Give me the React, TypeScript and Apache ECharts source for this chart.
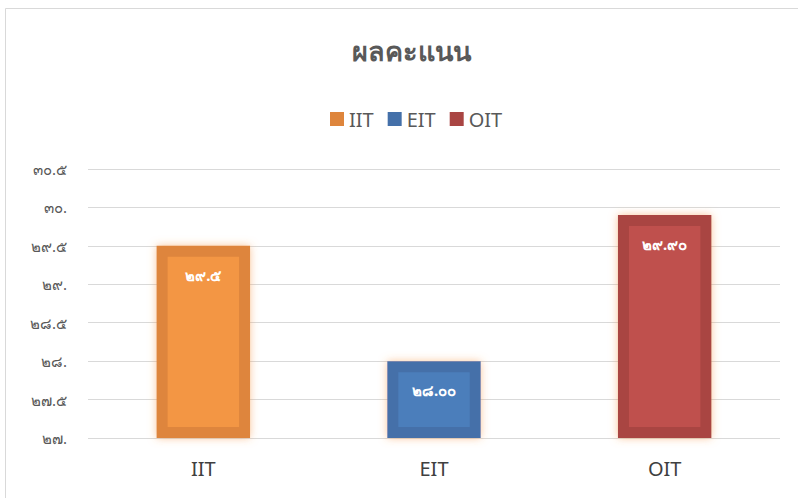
import React, { useEffect, useRef } from "react";
import * as echarts from "echarts";

const title = "ผลคะแนน";
const categories = ["IIT", "EIT", "OIT"];
const values = [29.5, 28.0, 29.9];
const labelDecimals = [1, 2, 2];
const outerColors = ["#DE853C", "#4470A9", "#A94543"];
const innerColors = ["#F39644", "#4B7EBB", "#BF504D"];
const axisMin = 27;
const axisMax = 30.5;
const axisStep = 0.5;

const thaiDigits = ["๐", "๑", "๒", "๓", "๔", "๕", "๖", "๗", "๘", "๙"];
const toThai = (s: string) => s.replace(/[0-9]/g, (d) => thaiDigits[Number(d)]);
const axisFmt = (v: number) =>
  Math.abs(v % 1) < 1e-9 ? toThai(String(Math.round(v))) + "." : toThai(v.toFixed(1));

const FONT = '"Noto Sans", "DejaVu Sans", sans-serif';

export default function App() {
  const ref = useRef<HTMLDivElement>(null);
  useEffect(() => {
    if (!ref.current) return;
    const chart = echarts.init(ref.current, undefined, { renderer: "svg" });
    const series = categories.map((name, i) => ({
      type: "custom" as const,
      name,
      itemStyle: { color: outerColors[i] },
      data: [[i, values[i]]],
      renderItem: (params: any, api: any) => {
        const x = api.value(0);
        const v = api.value(1);
        const top = api.coord([x, v]);
        const base = api.coord([x, axisMin]);
        const w = api.size([1, 0])[0] * 0.405;
        const b = 11;
        const h = base[1] - top[1];
        return {
          type: "group",
          children: [
            {
              type: "rect",
              shape: { x: top[0] - w / 2, y: top[1], width: w, height: h },
              style: {
                fill: outerColors[i],
                shadowColor: "rgba(247,150,70,0.55)",
                shadowBlur: 8,
              },
            },
            {
              type: "rect",
              shape: { x: top[0] - w / 2 + b, y: top[1] + b, width: w - 2 * b, height: h - 2 * b },
              style: { fill: innerColors[i] },
            },
            {
              type: "text",
              x: top[0],
              y: top[1] + 29,
              style: {
                text: toThai(values[i].toFixed(labelDecimals[i])),
                fill: "#FFFFFF",
                font: `bold 15px ${FONT}`,
                align: "center",
                verticalAlign: "middle",
              },
            },
          ],
        };
      },
    }));
    chart.setOption({
      animation: false,
      backgroundColor: "#FFFFFF",
      title: {
        text: title,
        left: 347,
        top: 32,
        textStyle: { color: "#595959", fontSize: 27, fontWeight: "bold", fontFamily: FONT },
      },
      legend: {
        data: categories,
        top: 104,
        left: 325,
        itemWidth: 14,
        itemHeight: 14,
        itemGap: 14,
        icon: "rect",
        textStyle: { color: "#595959", fontSize: 20, fontFamily: FONT },
      },
      grid: { left: 88, right: 18, top: 169, bottom: 60, containLabel: false },
      xAxis: {
        type: "category",
        data: categories,
        axisLine: { show: false },
        axisTick: { show: false },
        axisLabel: { color: "#404040", fontSize: 20, fontFamily: FONT, margin: 20 },
      },
      yAxis: {
        type: "value",
        min: axisMin,
        max: axisMax,
        interval: axisStep,
        axisLine: { show: false },
        axisTick: { show: false },
        splitLine: { lineStyle: { color: "#D9D9D9", width: 1 } },
        axisLabel: { color: "#595959", fontSize: 15, fontFamily: FONT, margin: 21, formatter: axisFmt },
      },
      graphic: [
        {
          type: "rect",
          shape: { x: 5.5, y: 8.5, width: 820, height: 520 },
          style: { fill: "none", stroke: "#D9D9D9", lineWidth: 1 },
          silent: true,
        },
      ],
      series,
    });
    return () => chart.dispose();
  }, []);
  return (
    <div
      ref={ref}
      style={{ position: "absolute", left: 0, top: 0, width: 798, height: 498 }}
    />
  );
}
